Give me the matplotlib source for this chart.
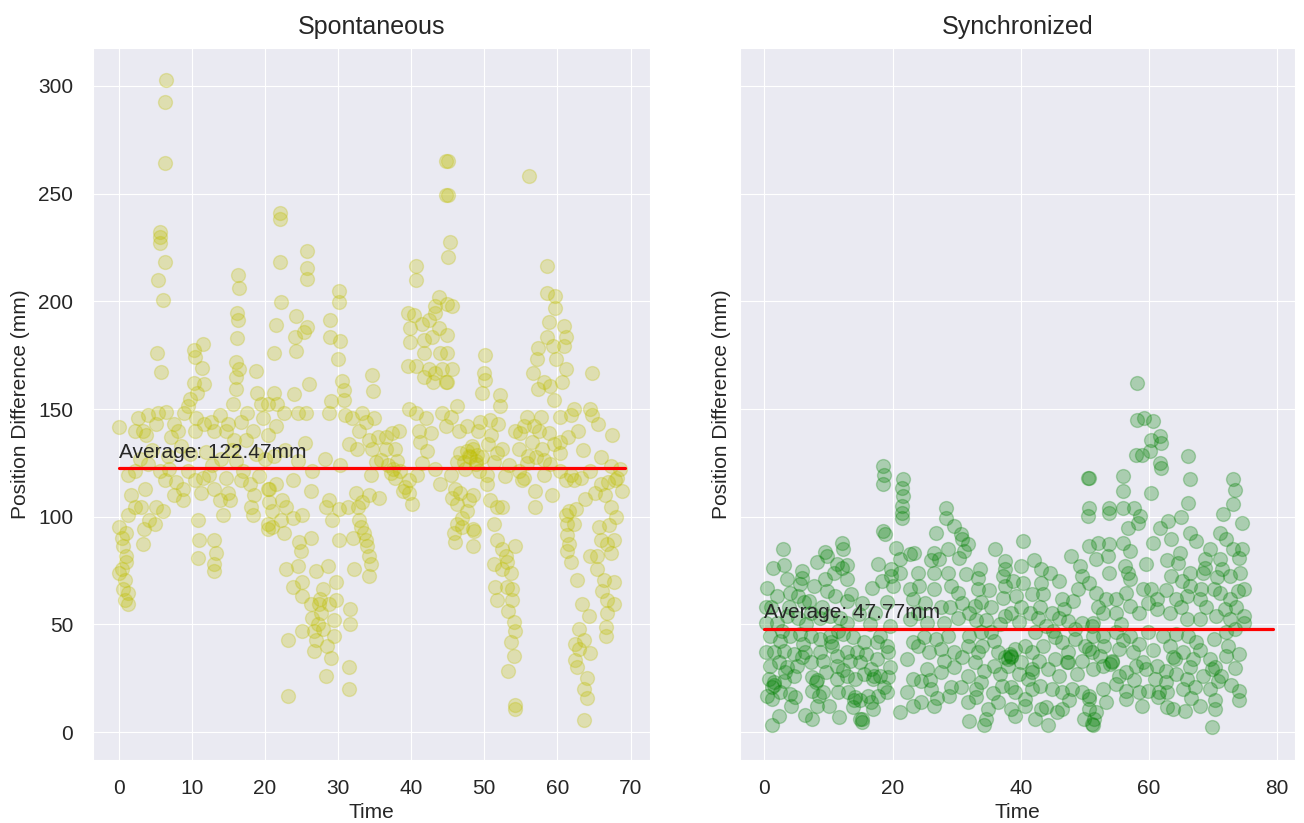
import matplotlib
matplotlib.use("Agg")
import matplotlib.pyplot as plt
import seaborn as sns

# ---------------- data ----------------
spont_t = [
    6.5, 6.4, 6.4, 5.6, 5.6, 5.7, 6.3, 5.4, 6.0,
    16.3, 16.4, 16.2, 16.3, 16.2, 16.0, 16.4, 16.0, 16.0, 15.7,
    5.3, 5.8, 10.3, 11.5, 10.4, 11.4, 10.3, 11.7, 10.7, 9.7, 9.5,
    18.8, 18.9, 19.5, 20.4,
    0.0, 2.6, 4.0, 3.3, 5.4, 6.5, 5.1, 3.8, 2.2, 9.0, 10.6, 11.7, 12.6, 13.8, 13.1, 14.7, 16.7, 17.6, 18.3, 19.7, 20.4, 17.4, 15.8, 10.4, 8.1, 7.2,
    4.5, 6.8, 8.5, 12.0, 14.0, 15.5, 18.8, 20.0,
    1.3, 2.2, 4.0, 5.6, 6.3, 7.9, 8.8, 8.8, 7.6, 9.5, 10.4, 11.5, 12.4, 13.1, 14.7, 14.9, 15.2, 13.8, 16.7, 17.9, 18.5, 18.1, 18.3, 20.4, 20.6, 20.4, 20.4,
    1.7, 2.2, 1.3, 3.1, 4.2, 4.9, 3.5, 6.0, 5.1,
    0.0, 0.4, 1.0, 0.6, 3.3, 1.0, 0.1, 0.4, 1.0, 0.8, 0.6, 1.3, 0.8, 1.3,
    10.8, 11.0, 10.8, 13.1, 13.3, 13.1, 13.1,
    22.0, 22.0, 22.0, 25.8, 25.8, 25.7, 22.2, 24.2, 24.1, 24.2, 25.8, 25.4, 21.5, 21.3, 21.3, 24.0, 21.7, 22.6, 21.5, 24.5, 25.6, 26.0, 28.9, 28.9, 30.1, 30.1, 30.3, 30.0, 29.0, 28.8,
    30.6, 30.8, 30.8, 31.0, 31.9, 33.3, 33.8, 34.7, 34.8, 34.9, 32.9, 31.5, 32.6, 34.2, 35.4, 36.5, 37.4, 38.3, 36.5, 35.9, 37.8, 37.2, 37.8, 38.9, 39.7, 40.1, 39.7, 40.8, 34.7, 35.2, 34.5,
    36.8, 37.5, 38.5, 38.0, 39.2,
    39.7, 40.6, 42.0, 41.0, 41.2, 42.2, 44.2, 44.7,
    40.6, 40.6, 39.5, 40.4, 39.8, 39.8, 39.5, 40.6, 41.5, 42.4, 43.3, 43.8, 43.3, 41.7, 42.8, 43.8, 44.0, 41.8, 42.4, 43.0, 43.3, 44.2, 44.7, 41.8, 44.7, 44.7,
    20.6, 21.5, 22.4, 23.8, 22.9, 21.0, 21.0, 22.2, 23.8, 25.1, 26.3, 28.8, 30.1, 31.3, 32.4, 32.7, 33.3, 34.2, 35.6, 32.9, 33.1, 33.5, 33.8, 34.0, 34.2, 34.5, 34.2, 32.2, 32.0, 22.6, 24.7, 24.9, 26.3, 22.9, 24.5, 23.8, 25.1, 27.0, 28.6, 27.9, 29.7, 26.3, 27.4, 28.8, 26.5, 27.7, 23.2, 25.1, 26.7, 27.0, 29.4, 26.7, 29.0, 28.3, 31.7, 31.7, 31.5, 31.5, 23.2, 29.7, 25.1, 28.3, 29.2, 30.1,
    27.2, 28.0, 28.5, 27.5, 29.5,
    21.2, 22.8, 24.5, 26.5, 28.2, 30.2, 25.5,
    45.1, 45.1, 45.3, 45.1, 44.9, 45.6, 44.9, 44.9, 45.6, 44.9, 56.1, 58.6, 58.6, 59.7, 59.7, 58.8, 60.9, 61.1, 60.9, 58.6, 57.4, 57.2, 59.4, 59.8, 61.1, 60.6, 56.7, 57.4, 58.1, 59.0, 59.5, 50.1, 49.9, 50.1, 49.7, 52.2, 52.2, 64.7, 64.5, 64.7, 62.2, 61.8, 46.3, 45.4, 46.5, 47.6, 49.4, 50.8, 51.9, 50.9, 50.5, 51.7, 49.2,
    46.7, 47.6, 48.5, 49.0, 48.1, 49.7, 47.2, 48.8, 46.3, 45.4, 46.0, 45.6, 46.7, 46.3, 47.9, 48.5, 47.6, 46.9, 46.3, 46.9, 45.8, 46.0, 48.5, 48.6, 48.5, 50.4, 50.8, 51.7, 52.4, 51.3, 50.4, 51.3, 52.4,
    47.9, 48.3, 48.9, 47.4, 49.3,
    51.7, 52.4, 52.9, 53.1, 54.2, 51.3, 52.4, 53.6, 51.5, 51.7, 53.1, 53.8, 53.8, 53.3, 54.0, 54.2, 53.6, 54.0, 53.3, 54.2, 54.2,
    54.2, 54.9, 54.7, 54.7, 55.4, 56.5, 57.0, 57.9, 58.1, 59.5, 60.4, 60.4, 59.0, 58.1, 56.9, 56.9, 55.1, 55.8, 57.8, 60.4, 55.4, 56.8,
    61.8, 62.2, 63.2, 61.1, 64.5, 66.0, 67.3, 67.8, 66.0, 65.1, 66.5, 67.3, 66.9, 68.2,
    61.1, 61.6, 62.5, 61.3, 62.2, 61.3, 61.6, 61.3, 61.8, 62.7, 65.7, 66.0, 64.5, 65.4, 66.8, 67.7, 67.3, 65.4, 66.3, 67.7, 66.1, 66.8, 67.7, 66.8, 66.6, 66.6, 63.4, 64.3, 62.9, 62.4, 62.9, 62.4, 62.7, 64.0, 63.6, 64.0, 63.6, 64.5, 63.6,
    68.8, 68.5, 68.0, 67.0,
    2.9, 7.5, 9.8, 12.8, 15.0, 17.0, 19.2, 3.6, 6.9, 11.2, 14.2, 16.0,
    41.5, 43.2, 44.0, 42.7, 55.8, 57.5, 58.8, 61.5, 63.5, 62.8, 65.5, 67.5, 63.8, 56.0, 53.4, 52.8, 59.3, 60.3,
]
spont_diff = [
    302.7, 292.7, 264.2, 232.2, 229.7, 227.0, 218.4, 209.7, 200.4,
    212.2, 206.0, 194.6, 191.5, 182.8, 171.9, 168.8, 164.7, 159.5, 152.3,
    176.0, 167.3, 177.5, 180.2, 174.0, 169.2, 162.2, 161.6, 157.4, 154.7, 151.2,
    167.8, 157.4, 152.3, 152.3,
    141.5, 146.0, 147.0, 139.9, 148.0, 148.5, 143.0, 137.8, 139.9, 148.1, 146.0, 143.0, 144.0, 147.0, 139.9, 139.9, 144.0, 148.1, 139.9, 146.0, 137.8, 135.7, 135.7, 139.9, 139.9, 136.8,
    131.0, 128.0, 133.0, 130.0, 127.0, 131.0, 129.0, 127.0,
    119.2, 121.3, 124.4, 121.3, 117.1, 116.1, 113.0, 107.8, 109.9, 121.3, 117.1, 118.2, 119.2, 113.0, 118.2, 111.0, 107.8, 107.8, 117.1, 115.1, 109.9, 104.7, 100.6, 113.0, 106.8, 96.5, 94.4,
    109.9, 104.7, 100.6, 104.7, 98.5, 96.5, 94.4, 102.7, 104.7,
    95.4, 90.3, 92.3, 86.2, 87.2, 82.0, 73.8, 75.8, 78.9, 70.7, 66.5, 64.5, 61.4, 59.3,
    98.5, 89.3, 81.0, 89.3, 83.0, 77.9, 74.8,
    241.1, 238.0, 218.4, 223.5, 215.3, 210.5, 199.8, 193.2, 183.3, 177.0, 188.3, 185.7, 188.8, 176.0, 157.4, 156.9, 152.3, 148.1, 142.0, 148.1, 148.1, 161.6, 191.5, 183.3, 205.0, 199.8, 181.7, 173.3, 153.7, 148.1,
    163.0, 158.9, 154.3, 147.1, 146.0, 148.1, 144.0, 165.7, 158.4, 146.0, 139.9, 133.7, 131.6, 135.7, 136.8, 136.8, 138.8, 139.9, 131.6, 126.4, 131.6, 120.2, 118.2, 112.0, 111.0, 105.8, 117.1, 119.2, 131.6, 125.4, 119.2,
    124.0, 122.0, 121.0, 126.0, 114.0,
    150.2, 148.1, 146.0, 139.9, 134.7, 130.6, 148.1, 142.0,
    216.3, 210.1, 194.6, 193.6, 187.4, 181.2, 169.8, 169.8, 189.4, 191.5, 194.6, 201.8, 197.7, 182.2, 183.3, 187.4, 176.0, 176.0, 168.8, 162.6, 166.7, 168.8, 162.6, 164.7, 264.9, 249.3,
    113.0, 115.1, 107.8, 117.1, 104.7, 102.7, 95.4, 98.5, 99.6, 100.6, 112.0, 107.8, 103.7, 104.7, 110.9, 104.7, 106.8, 109.9, 108.9, 98.5, 95.4, 92.3, 89.3, 86.2, 82.0, 77.9, 72.7, 75.8, 90.3, 92.3, 88.2, 84.1, 90.3, 75.8, 76.9, 67.6, 69.6, 74.8, 76.9, 66.5, 69.6, 59.3, 59.3, 59.3, 53.1, 55.2, 42.8, 46.9, 46.9, 42.8, 44.8, 37.6, 34.5, 26.2, 57.2, 50.0, 30.4, 20.0, 16.9, 61.4, 63.4, 104.7, 98.5, 89.3,
    50.0, 48.0, 40.0, 62.0, 52.0,
    128.0, 131.0, 126.0, 121.0, 127.0, 124.0, 134.0,
    264.9, 249.3, 227.7, 220.4, 198.7, 197.7, 184.3, 176.0, 168.8, 162.6, 258.0, 216.3, 203.9, 202.3, 196.7, 190.5, 188.4, 183.3, 179.1, 183.3, 178.1, 173.0, 179.1, 173.0, 168.8, 162.6, 166.7, 159.5, 162.6, 160.5, 154.3, 175.0, 166.7, 163.6, 157.4, 156.4, 151.2, 166.7, 150.2, 147.1, 150.2, 147.1, 151.2, 146.1, 139.9, 142.0, 144.0, 145.0, 143.0, 137.8, 133.7, 129.6, 139.9,
    129.6, 130.6, 131.6, 128.5, 127.5, 127.5, 125.4, 124.4, 125.4, 119.2, 113.0, 108.9, 110.9, 105.8, 107.8, 109.9, 102.7, 99.6, 96.5, 95.4, 92.3, 88.2, 94.4, 93.4, 86.2, 115.1, 107.8, 104.7, 104.7, 96.5, 119.2, 125.4, 131.6,
    128.0, 133.0, 126.0, 122.0, 121.0,
    89.3, 85.1, 82.0, 78.9, 86.2, 77.9, 75.8, 73.8, 67.6, 61.4, 67.6, 66.5, 61.4, 56.2, 51.0, 46.9, 41.7, 35.5, 28.3, 12.8, 10.7,
    139.9, 138.8, 131.6, 121.3, 118.2, 134.7, 127.5, 131.6, 126.4, 133.7, 134.7, 129.6, 124.4, 119.2, 112.0, 104.7, 117.1, 146.1, 146.1, 146.1, 142.0, 142.0,
    119.2, 117.1, 118.2, 117.1, 121.3, 127.5, 123.4, 117.1, 115.1, 110.9, 109.9, 104.7, 116.1, 118.2,
    100.6, 102.7, 103.7, 96.5, 96.5, 91.3, 87.2, 84.1, 78.9, 70.7, 95.4, 89.3, 82.0, 82.0, 87.2, 89.3, 83.0, 75.8, 70.7, 69.6, 65.5, 61.4, 59.3, 55.2, 49.0, 44.8, 59.3, 54.1, 47.9, 40.7, 38.6, 33.5, 30.4, 25.2, 20.0, 15.9, 5.6, 36.6, 42.8,
    112.0, 122.0, 100.0, 96.0,
    127.0, 143.0, 129.0, 124.0, 143.0, 121.0, 119.0, 113.0, 122.0, 111.0, 101.0, 126.0,
    125.0, 122.0, 115.0, 139.0, 125.0, 140.0, 139.0, 137.0, 131.0, 140.0, 143.0, 138.0, 108.0, 128.0, 124.0, 119.0, 110.0, 121.0,
]

sync_t = [
    18.5, 18.6, 18.5, 21.7, 21.5, 21.7, 21.4, 21.4, 21.4, 18.5, 18.8, 2.9, 3.0, 9.5, 9.7, 12.1, 12.3, 11.3, 12.9, 12.1, 5.9, 5.9, 5.6, 9.5, 12.9, 9.7, 11.0, 12.9, 0.4, 2.0, 4.0, 5.3, 6.1, 6.9, 20.6, 22.7, 21.1, 19.8, 19.8, 21.1, 18.3, 20.1, 22.7, 23.2, 19.1, 0.2,
    0.2, 2.0, 3.5, 5.3, 7.2, 8.7, 10.3, 11.8, 12.9, 0.9, 2.5, 4.0, 5.6, 7.2, 8.7, 10.3, 10.5, 12.3, 0.2, 1.5, 3.0, 4.6, 6.4, 8.7, 11.3, 12.9, 14.4, 15.9, 17.5, 18.0, 19.1, 19.3, 17.5, 0.9, 2.2, 3.5, 5.1, 7.2, 9.2, 11.3, 13.4, 14.9, 16.7, 19.6, 0.7, 1.5, 3.0, 4.6, 7.4, 8.0, 11.3, 12.9, 14.1, 17.0, 18.0, 19.3, 0.4, 1.2, 2.5, 4.0, 4.8, 7.4, 8.5, 9.2, 11.5, 13.1, 14.1, 14.9, 16.2, 17.8, 19.1, 2.2, 1.2, 7.4, 11.6, 14.9, 15.2, 8.2, 17.0, 13.9, 1.2,
    1.5, 8.2, 14.0, 15.2, 17.1, 3.2, 5.8, 10.4,
    17.3, 19.6, 22.7, 23.2, 22.2, 23.2, 22.2, 23.2, 21.1,
    28.3, 28.3, 26.8, 30.7, 30.9, 29.6, 26.5, 27.3, 28.6, 30.4, 31.2, 31.7, 33.6, 33.3, 37.5, 37.5, 37.2, 37.5, 40.4, 40.1, 40.4, 43.2, 43.2, 43.5, 46.4, 49.3, 49.5, 49.0, 50.6, 50.6, 50.5, 50.5, 23.4, 23.9, 24.1, 26.5, 26.5, 28.6, 29.1, 30.2, 31.5, 33.3, 37.2, 39.3,
    32.8, 33.8, 35.4, 32.0, 30.2, 28.1, 25.4, 23.9, 37.5, 38.5, 40.1, 41.4, 42.7, 44.8, 45.9, 47.4, 48.5, 49.5, 51.1, 44.0, 42.2, 35.4, 33.8, 32.0, 28.6, 26.8, 24.9, 23.9, 25.7, 27.5, 29.6, 31.7, 33.3, 35.9, 36.4, 37.5, 38.5, 39.1, 40.6, 41.7, 43.5, 45.3, 46.4, 47.4, 48.5, 50.1, 51.1, 49.5, 47.4, 45.3, 44.3, 41.7, 41.2, 40.1, 38.0, 35.9, 34.3, 32.8, 31.7, 29.6, 27.5, 25.4, 24.4, 26.0, 29.1, 30.7, 33.0, 33.8, 37.0, 38.5, 39.1, 41.7, 43.0, 44.8, 46.4, 48.0, 49.5, 50.6, 24.4, 26.5, 28.8, 31.7, 33.0, 34.9, 34.6, 34.3, 36.4, 38.5, 39.1, 40.6, 42.2, 43.2, 44.0, 44.3, 45.6, 46.4, 49.8, 50.6, 51.1, 32.0, 38.5, 38.3, 38.0, 41.7, 47.2,
    58.2, 58.2, 59.3, 60.6, 60.4, 61.7, 61.9, 61.9, 61.7, 58.0, 58.9, 60.1, 66.1, 66.4, 66.1, 60.4, 55.9, 55.9, 50.7, 73.2, 73.5, 73.2, 74.5, 71.6, 71.1, 72.1, 73.2, 74.5, 74.0, 71.1, 71.4, 72.6, 53.8, 53.8, 55.9, 57.7, 58.6, 58.3, 61.7, 63.5, 60.6, 66.4, 67.4, 64.8, 64.6, 68.7, 68.7, 68.4, 52.0, 53.8, 55.9, 53.6, 51.7, 53.8, 56.2, 56.7, 57.0, 63.5, 65.1, 66.4, 66.4, 68.2, 67.9, 50.7, 51.7, 53.3, 54.9, 56.4, 59.1, 60.4, 61.2, 64.3, 65.9, 70.1, 71.1, 72.6, 73.9, 74.8, 74.8, 74.8, 72.6, 70.5, 67.9, 65.9, 63.3, 61.2, 58.5, 57.0, 54.9, 52.8, 51.2,
    51.2, 52.8, 54.9, 57.0, 58.5, 59.8, 62.2, 64.3, 66.1, 67.4, 70.1, 72.1, 73.5, 50.7, 52.3, 54.3, 55.4, 57.5, 59.1, 61.2, 62.7, 64.0, 65.3, 66.9, 66.4, 69.5, 70.3, 72.1, 74.0, 72.3, 51.2, 52.8, 56.4, 58.0, 59.6, 60.9, 62.7, 64.3, 65.9, 68.5, 69.5, 70.8, 52.8, 54.9, 56.4, 58.5, 59.8, 61.5, 62.8, 65.3, 67.2, 51.8, 51.5, 51.2, 53.3, 56.5, 61.4, 62.9, 63.8, 65.6, 70.3, 69.8, 70.3, 74.0, 74.0, 50.7, 54.0, 54.3, 63.8, 69.9,
    1.0, 3.8, 6.5, 9.0, 11.5, 13.8, 15.5, 16.5, 2.8, 6.0, 9.6, 12.2, 15.6, 18.6, 4.2, 10.0, 6.3, 16.6, 13.5, 14.8, 7.8, 3.5, 1.3, 8.2, 15.3, 16.8, 17.8, 10.8,
    25.0, 27.6, 30.8, 34.5, 36.8, 39.8, 43.0, 46.8, 48.2, 25.8, 28.0, 30.8, 34.0, 36.8, 39.8, 42.8, 45.9, 48.8, 27.0, 35.6, 40.6, 47.6, 45.0, 33.0, 29.0, 26.0, 35.0, 41.8, 46.0, 47.8, 44.5, 38.8, 36.0, 42.0,
    52.0, 55.6, 59.8, 62.6, 65.0, 68.9, 71.8, 73.6, 53.0, 56.0, 60.6, 63.3, 68.0, 71.3, 73.4, 55.3, 57.6, 66.6, 68.0, 58.9, 72.8, 57.0, 59.5, 62.8, 69.5, 70.6, 74.2, 65.0, 63.0, 56.8,
]
sync_diff = [
    123.4, 119.6, 115.4, 117.6, 113.4, 109.6, 104.9, 101.8, 99.5, 93.4, 91.8, 84.9, 77.5, 83.6, 81.8, 87.6, 85.2, 77.9, 77.5, 76.4, 74.8, 71.7, 68.7, 71.0, 71.0, 65.6, 63.3, 61.0, 67.1, 63.3, 64.8, 63.3, 60.2, 61.0, 85.6, 82.6, 80.2, 75.6, 72.5, 74.1, 70.2, 67.9, 66.3, 61.7, 60.2, 57.9,
    50.9, 50.9, 54.0, 53.2, 55.5, 53.2, 54.0, 53.2, 50.9, 44.7, 42.4, 44.7, 45.5, 44.7, 43.2, 44.7, 40.1, 45.5, 37.0, 37.0, 37.8, 36.3, 37.0, 37.0, 35.5, 37.0, 37.0, 36.3, 41.7, 44.7, 40.1, 37.0, 33.9, 30.9, 32.4, 30.1, 30.9, 32.4, 33.2, 30.9, 33.2, 32.4, 29.3, 30.1, 24.7, 23.1, 23.9, 26.2, 25.5, 23.1, 24.7, 26.2, 24.7, 24.7, 26.2, 25.5, 17.0, 15.4, 18.5, 17.7, 16.2, 19.3, 17.0, 18.5, 18.5, 18.5, 16.2, 14.7, 17.0, 17.0, 18.5, 7.7, 3.1, 6.2, 6.9, 6.2, 4.6, 12.3, 10.8, 11.6, 20.8,
    22.0, 24.0, 15.0, 6.0, 26.0, 28.0, 35.0, 42.0,
    55.5, 49.4, 52.5, 41.7, 33.9, 24.7, 18.5, 12.3, 9.3,
    104.2, 99.5, 92.6, 91.8, 89.5, 95.7, 83.3, 80.2, 84.9, 81.0, 84.1, 87.2, 75.6, 71.7, 79.5, 75.6, 72.5, 67.9, 88.7, 77.1, 69.4, 75.6, 69.4, 64.0, 61.7, 77.1, 72.5, 66.3, 86.4, 104.2, 100.3, 118.0, 83.3, 74.1, 67.9, 74.1, 66.3, 74.1, 67.9, 64.8, 73.3, 66.3, 62.5, 63.3,
    58.6, 60.2, 57.9, 55.5, 53.2, 50.9, 50.9, 55.5, 54.0, 55.5, 57.9, 55.5, 53.2, 55.5, 53.2, 51.7, 47.8, 50.9, 49.4, 49.4, 46.3, 46.3, 46.3, 44.7, 44.7, 43.2, 44.0, 40.1, 37.0, 38.6, 37.0, 40.1, 37.0, 42.4, 37.0, 34.7, 35.5, 38.6, 40.1, 37.0, 40.1, 44.0, 41.7, 37.0, 43.2, 40.1, 37.0, 33.2, 32.4, 33.9, 29.3, 29.3, 24.7, 32.4, 30.9, 30.9, 28.5, 32.4, 26.2, 30.1, 27.8, 29.3, 23.9, 20.1, 20.8, 20.8, 20.1, 23.1, 21.6, 20.8, 18.5, 20.1, 21.6, 20.1, 18.5, 20.1, 18.5, 17.0, 13.9, 12.3, 17.0, 13.9, 16.2, 10.8, 6.2, 3.1, 13.9, 10.8, 7.7, 15.4, 6.2, 10.8, 11.6, 3.1, 9.3, 10.8, 6.2, 10.8, 3.9, 5.4, 34.7, 36.3, 33.9, 27.8, 32.4,
    162.0, 145.0, 145.8, 144.3, 135.8, 137.3, 134.2, 122.7, 125.0, 128.8, 128.8, 130.4, 128.1, 117.3, 106.5, 111.1, 118.8, 111.9, 118.0, 117.3, 112.6, 105.7, 97.2, 101.1, 92.6, 89.5, 84.9, 84.9, 81.0, 80.2, 75.6, 72.5, 104.2, 101.8, 104.2, 104.2, 100.3, 97.2, 94.9, 89.5, 88.0, 92.6, 88.7, 83.3, 78.7, 80.2, 76.4, 74.1, 88.0, 87.2, 88.0, 81.8, 80.2, 74.1, 77.1, 74.1, 71.0, 72.5, 70.2, 74.1, 67.9, 66.3, 61.7, 69.4, 64.8, 61.7, 61.7, 64.8, 66.3, 66.3, 61.7, 61.7, 63.3, 66.3, 64.8, 61.7, 65.6, 66.3, 54.0, 50.9, 52.5, 54.0, 52.5, 52.5, 55.5, 57.1, 55.5, 58.6, 55.5, 55.5, 50.9,
    44.7, 44.7, 46.3, 44.7, 40.9, 46.3, 44.7, 45.5, 44.7, 41.7, 43.2, 46.3, 47.8, 38.6, 35.5, 32.4, 38.6, 37.0, 32.4, 30.9, 28.5, 33.9, 37.0, 33.9, 30.1, 33.9, 30.1, 35.5, 36.3, 40.1, 29.3, 30.9, 27.8, 30.9, 29.3, 24.7, 23.1, 27.0, 24.7, 26.2, 20.1, 23.9, 20.1, 22.4, 19.3, 18.5, 19.3, 18.5, 18.5, 20.1, 20.8, 9.3, 6.2, 3.1, 13.9, 15.4, 16.2, 11.6, 10.8, 10.0, 10.8, 2.3, 14.7, 19.3, 14.7, 15.4, 31.6, 33.2, 34.7, 29.3,
    58.0, 58.0, 50.0, 58.0, 47.0, 44.0, 42.0, 50.0, 47.0, 41.0, 28.0, 29.0, 27.0, 21.0, 12.0, 12.0, 8.0, 14.0, 64.0, 55.0, 68.0, 71.0, 76.0, 79.0, 60.0, 67.0, 78.0, 74.0,
    60.0, 58.0, 60.0, 52.0, 50.0, 51.0, 58.0, 57.0, 61.0, 24.0, 33.0, 35.0, 40.0, 27.0, 27.0, 33.0, 26.0, 27.0, 16.0, 18.0, 12.0, 15.0, 47.0, 52.0, 58.0, 80.0, 66.0, 64.0, 70.0, 82.0, 74.0, 70.0, 85.0, 80.0,
    58.0, 50.0, 60.0, 66.0, 58.0, 58.0, 57.0, 58.0, 40.0, 43.0, 38.0, 40.0, 38.0, 26.0, 30.0, 26.0, 24.0, 16.0, 12.0, 12.0, 22.0, 84.0, 78.0, 80.0, 85.0, 72.0, 74.0, 100.0, 98.0, 95.0,
]

spont_avg = 122.47
sync_avg = 47.77
spont_span = [0, 69.2]
sync_span = [0, 79.3]
titles = ["Spontaneous", "Synchronized"]
y_ticks = [0, 50, 100, 150, 200, 250, 300]
spont_xticks = [0, 10, 20, 30, 40, 50, 60, 70]
sync_xticks = [0, 20, 40, 60, 80]

# ---------------- style ----------------
sns.set_style("darkgrid")
plt.rcParams["font.family"] = ["Liberation Sans", "DejaVu Sans"]
text_color = "0.15"

fig = plt.figure(figsize=(13.04, 8.23), dpi=100)
ax1 = fig.add_axes([0.0716, 0.0766, 0.4269, 0.8654])
ax2 = fig.add_axes([0.5672, 0.0766, 0.4259, 0.8654], sharey=ax1)

panels = [
    (ax1, spont_t, spont_diff, spont_avg, spont_span, "y", spont_xticks, (-3.46, 72.66)),
    (ax2, sync_t, sync_diff, sync_avg, sync_span, "g", sync_xticks, (-3.87, 82.8)),
]

for i, (ax, t, d, avg, span, col, xt, xl) in enumerate(panels):
    ax.scatter(t, d, s=100, color=col, alpha=0.27, linewidths=1.0, zorder=2)
    ax.plot(span, [avg, avg], color="red", lw=2.3, zorder=3)
    ax.text(span[0], avg + 5, f"Average: {avg:.2f}mm", fontsize=15,
            color=text_color, va="baseline", ha="left", zorder=4)
    ax.set_title(titles[i], fontsize=18, color=text_color, pad=10)
    ax.set_xlabel("Time", fontsize=15, color=text_color, labelpad=4)
    ax.set_ylabel("Position Difference (mm)", fontsize=15, color=text_color, labelpad=6)
    ax.set_xticks(xt)
    ax.set_xlim(*xl)
    ax.tick_params(axis="x", labelsize=15, pad=10, colors=text_color)
    ax.tick_params(axis="y", labelsize=15, pad=11, colors=text_color)

ax1.set_yticks(y_ticks)
ax1.set_ylim(-12.9, 317.7)
ax2.tick_params(axis="y", labelleft=False)

fig.savefig("out.png", dpi=100)
